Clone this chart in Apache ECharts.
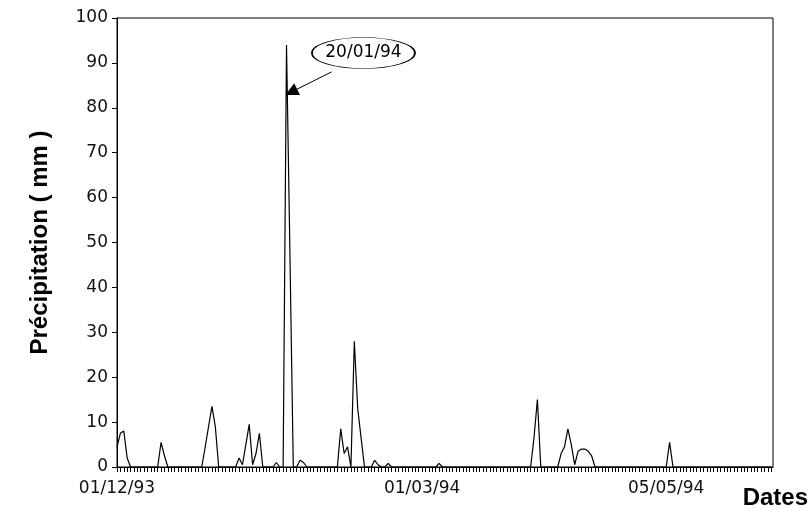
<!DOCTYPE html>
<html><head><meta charset="utf-8">
<script src="https://cdn.jsdelivr.net/npm/echarts@6/dist/echarts.min.js"></script>
<style>html,body{margin:0;padding:0;background:#fff}#c{width:811px;height:511px}</style>
</head><body><div id="c"></div>
<script>
// Day index counted from 01/12/93 (day 0)
const days = [0,1,2,3,4, 12,13,14,15, 25,26,27,28,29,30, 35,36,37,38,39,40,41,42,43,
  46,47,48,49,50,51,52, 53,54,55,56, 65,66,67,68,69,70,71,72,73, 75,76,77,78, 79,80,81,
  94,95,96, 122,123,124,125, 130,131,132,133,134,135,136,137,138,139,140,141, 162,163,164, 193];
const rainMm = [4.5,7.5,8,2,0, 0,5.5,2.5,0, 0,4.4,9,13.5,9,0, 0,2,0.5,5,9.5,0.5,3,7.5,0,
  0,1,0,0,94,48,0, 0,1.5,1,0, 0,8.5,3,4.5,0,28,13,6.5,0, 0,1.5,0.5,0, 0,0.8,0,
  0,0.8,0, 0,6.5,15,0, 0,3,4.5,8.5,5,0.5,3.5,4,4,3.5,2.5,0, 0,5.5,0, 0];
const xTickDays = [0, 90, 162];
const xTickLabels = ['01/12/93', '01/03/94', '05/05/94'];
const yMin = 0, yMax = 100, yStep = 10;
const calloutText = '20/01/94';
const calloutCenter = [72.7, 92.2];
const arrowFrom = [63.3, 88.0];
const arrowTo = [51.4, 83.5];

const labelMap = {};
xTickDays.forEach((d, i) => { labelMap[d] = xTickLabels[i]; });

const chart = echarts.init(document.getElementById('c'), null, {renderer: 'canvas'});
chart.setOption({
  animation: false,
  backgroundColor: '#fff',
  grid: {left: 117, right: 38, top: 18, bottom: 44, show: true, borderColor: '#000', borderWidth: 1, backgroundColor: 'transparent'},
  xAxis: {
    type: 'value', min: 0, max: 193.5, interval: 1,
    name: 'Dates', nameLocation: 'end', nameGap: 35,
    nameTextStyle: {fontFamily: 'Liberation Sans', fontWeight: 'bold', fontSize: 24, color: '#000', align: 'right', verticalAlign: 'top', padding: [19, 0, 0, 0]},
    axisLine: {show: true, lineStyle: {color: '#000', width: 1}},
    axisTick: {show: true, length: 5, lineStyle: {color: '#000', width: 1}},
    splitLine: {show: false},
    axisLabel: {
      show: true, margin: 13, fontFamily: 'DejaVu Sans', fontSize: 17, color: '#111',
      showMinLabel: true, showMaxLabel: false,
      formatter: v => labelMap[Math.round(v)] !== undefined && Math.abs(v - Math.round(v)) < 1e-6 ? labelMap[Math.round(v)] : ''
    }
  },
  yAxis: {
    type: 'value', min: yMin, max: yMax, interval: yStep,
    name: 'Précipitation ( mm )', nameLocation: 'middle', nameGap: 65, nameRotate: 90,
    nameTextStyle: {fontFamily: 'Liberation Sans', fontWeight: 'bold', fontSize: 24, color: '#000'},
    axisLine: {show: true, lineStyle: {color: '#000', width: 1}},
    axisTick: {show: true, length: 5, lineStyle: {color: '#000', width: 1}},
    splitLine: {show: false},
    axisLabel: {margin: 9, fontFamily: 'DejaVu Sans', fontSize: 17, color: '#111'}
  },
  series: [{
    type: 'line',
    data: days.map((d, i) => [d, rainMm[i]]),
    showSymbol: false, symbol: 'none',
    lineStyle: {color: '#000', width: 1.2},
    markPoint: {
      silent: true,
      data: [{
        coord: calloutCenter, symbol: 'circle', symbolSize: [103, 31],
        itemStyle: {color: '#fff', borderColor: '#000', borderWidth: 1},
        label: {show: true, position: 'inside', formatter: calloutText, color: '#000', fontSize: 17, fontFamily: 'DejaVu Sans'}
      }]
    },
    markLine: {
      silent: true,
      label: {show: false},
      lineStyle: {color: '#000', width: 1, type: 'solid'},
      symbol: ['none', 'triangle'],
      symbolSize: 13,
      data: [[{coord: arrowFrom}, {coord: arrowTo}]]
    }
  }]
});
</script>
</body></html>
